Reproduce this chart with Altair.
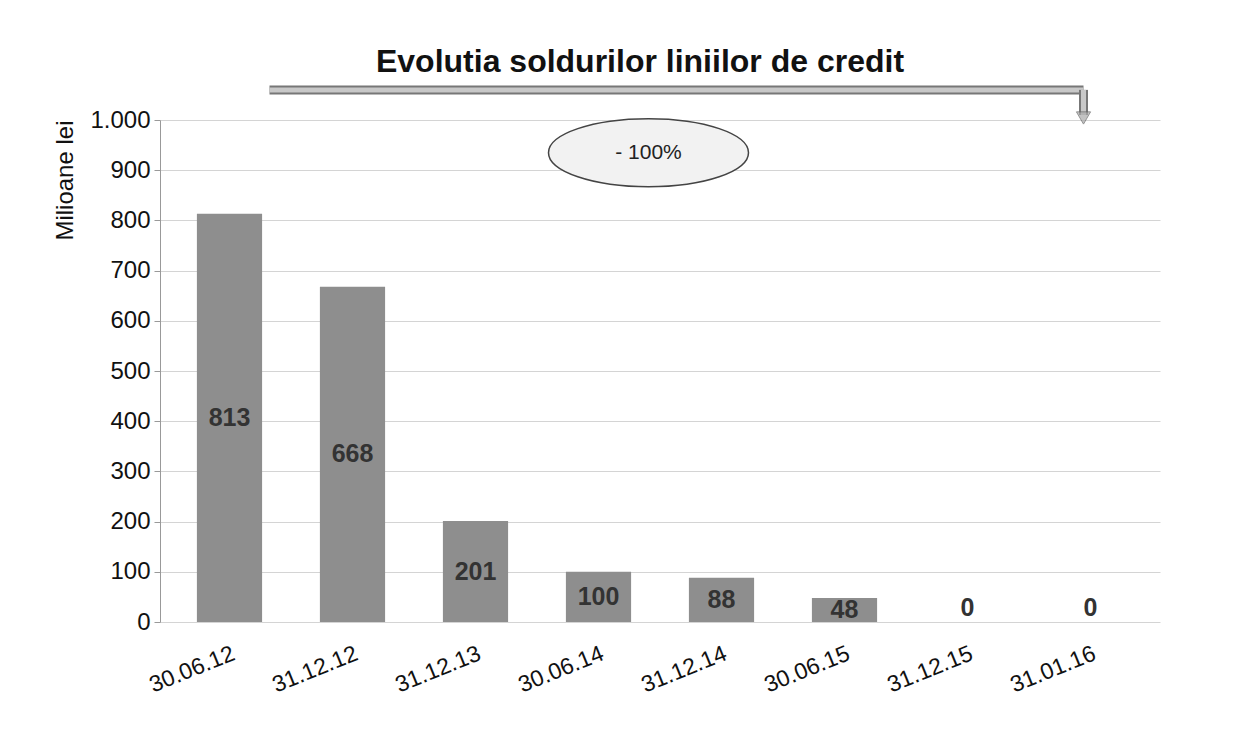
import altair as alt
import pandas as pd

dates = ["30.06.12", "31.12.12", "31.12.13", "30.06.14", "31.12.14", "30.06.15", "31.12.15", "31.01.16"]
values = [813, 668, 201, 100, 88, 48, 0, 0]
title_text = "Evolutia soldurilor liniilor de credit"
change_text = "- 100%"

df = pd.DataFrame({"d": dates, "v": values})

FONT = "Liberation Sans"
x_enc = alt.X("d:N", sort=dates, title=None,
              scale=alt.Scale(domain=dates, paddingInner=0.47, paddingOuter=0.3),
              axis=alt.Axis(labelAngle=-22, labelFontSize=23, labelFont=FONT, labelColor="#111",
                            ticks=False, domain=False, labelPadding=20))
y_enc = alt.Y("v:Q", title="Milioane lei",
              scale=alt.Scale(domain=[0, 1000], nice=False),
              axis=alt.Axis(values=list(range(0, 1001, 100)),
                            labelExpr="replace(format(datum.value, ','), ',', '.')",
                            labelFontSize=24, labelFont=FONT, labelColor="#111",
                            titleFontSize=24, titleFont=FONT, titleFontWeight="normal",
                            titleColor="#111", titleAnchor="end", titlePadding=12,
                            gridColor="#d4d4d4", domainColor="#999", tickColor="#999",
                            tickSize=6, labelPadding=4))

bars = alt.Chart(df).mark_bar(color="#8e8e8e").encode(x=x_enc, y=y_enc)

labels = alt.Chart(df).transform_calculate(
    ly="datum.v > 0 ? datum.v / 2 : 28"
).mark_text(fontSize=25, fontWeight="bold", font=FONT, color="#333", baseline="middle").encode(
    x=alt.X("d:N", sort=dates), y="ly:Q", text="v:Q")

arrow_df = pd.DataFrame({"x1": [dates[0]], "x2": [dates[-1]], "y": [1060], "yb": [1010]})
arrow_outer = alt.Chart(arrow_df).mark_rule(color="#777", strokeWidth=9, xOffset=40, x2Offset=-7).encode(
    x=alt.X("x1:N", sort=dates), x2="x2:N", y="y:Q")
arrow_inner = alt.Chart(arrow_df).mark_rule(color="#c8c8c8", strokeWidth=5, xOffset=40, x2Offset=-7).encode(
    x=alt.X("x1:N", sort=dates), x2="x2:N", y="y:Q")
arrow_down_outer = alt.Chart(arrow_df).mark_rule(color="#777", strokeWidth=9, xOffset=-7).encode(
    x=alt.X("x2:N", sort=dates), y="y:Q", y2="yb:Q")
arrow_down_inner = alt.Chart(arrow_df).mark_rule(color="#c8c8c8", strokeWidth=5, xOffset=-7).encode(
    x=alt.X("x2:N", sort=dates), y="y:Q", y2="yb:Q")
arrow_head = alt.Chart(arrow_df).mark_point(shape="triangle-down", size=200, filled=True, color="#aaa",
                                            stroke="#666", strokeWidth=1, xOffset=-7, yOffset=3).encode(
    x=alt.X("x2:N", sort=dates), y="yb:Q")

ell_df = pd.DataFrame({"x": [dates[3]], "y": [935], "t": [change_text]})
ellipse = alt.Chart(ell_df).mark_point(
    shape="M -1 0 A 1 0.34 0 1 1 1 0 A 1 0.34 0 1 1 -1 0 Z",
    size=40000, filled=True, fill="#f2f2f2", stroke="#444", strokeWidth=1.5, xOffset=50, opacity=1
).encode(x=alt.X("x:N", sort=dates), y="y:Q")
ell_text = alt.Chart(ell_df).mark_text(fontSize=21, font=FONT, color="#222", xOffset=50).encode(
    x=alt.X("x:N", sort=dates), y="y:Q", text="t:N")

chart = alt.layer(bars, labels, arrow_outer, arrow_inner, arrow_down_outer, arrow_down_inner,
                  arrow_head, ellipse, ell_text).properties(
    width=1000, height=502,
    title=alt.TitleParams(title_text, fontSize=32, font=FONT, fontWeight="bold", color="#111",
                          anchor="middle", offset=20, dx=-20, dy=14),
    padding={"left": 45, "top": 38, "right": 10, "bottom": 10},
    background="white"
).configure_view(stroke=None)

chart.save("out.html", embed_options={"renderer": "svg", "actions": False})
